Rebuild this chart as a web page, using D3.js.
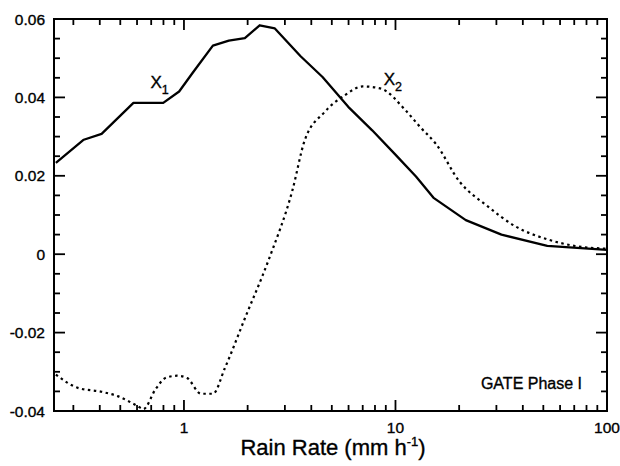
<!DOCTYPE html>
<html lang="en">
<head>
<meta charset="utf-8">
<title>GATE Phase I - Rain Rate</title>
<script src="https://cdn.jsdelivr.net/npm/d3@7"></script>
<style>
  body { margin: 0; background: #fff; }
  svg text { font-family: "Liberation Sans", Arial, Helvetica, sans-serif; fill: #000; stroke: #000; stroke-width: 0.35; }
</style>
</head>
<body>
<svg id="chart" width="620" height="466"></svg>
<script>
// values
const x1Rate  = [0.248, 0.336, 0.408, 0.577, 0.798, 0.949, 1.10, 1.37, 1.63, 1.94, 2.28, 2.69, 3.56, 4.52, 5.98, 7.76, 10.07, 12.5, 15.2, 21.5, 31.7, 52.2, 100]
const x1Value = [0.0233, 0.0292, 0.0307, 0.0386, 0.0386, 0.0415, 0.0463, 0.0532, 0.0545, 0.0551, 0.0584, 0.0576, 0.0505, 0.0452, 0.0376, 0.0316, 0.0252, 0.0198, 0.0143, 0.0087, 0.0050, 0.0021, 0.0011]

const x2Rate  = [0.248, 0.315, 0.408, 0.485, 0.602, 0.643, 0.733, 0.817, 0.929, 1.035, 1.205, 1.372, 1.56, 1.94, 2.52, 3.26, 3.72, 4.61, 5.74, 7.0, 8.47, 11.2, 13.1, 15.5, 20.1, 27.3, 36.9, 52.2, 70.7, 100]
const x2Value = [-0.0307, -0.0341, -0.0351, -0.0362, -0.0387, -0.0395, -0.0345, -0.0316, -0.0310, -0.0316, -0.0356, -0.0356, -0.0291, -0.0164, -0.0013, 0.0164, 0.0290, 0.0362, 0.0405, 0.0428, 0.0423, 0.0366, 0.0324, 0.0282, 0.0185, 0.0122, 0.0071, 0.0038, 0.0021, 0.0014]

const xMajor = [1, 10, 100]
const xMinor = [0.3, 0.4, 0.5, 0.6, 0.7, 0.8, 0.9, 2, 3, 4, 5, 6, 7, 8, 9, 20, 30, 40, 50, 60, 70, 80, 90]
const yMajor = [-0.04, -0.02, 0, 0.02, 0.04, 0.06]
const yMinor = [-0.035, -0.03, -0.025, -0.015, -0.01, -0.005, 0.005, 0.01, 0.015, 0.025, 0.03, 0.035, 0.045, 0.05, 0.055]
const seriesLabels = [
  {name: "X", sub: "1", rate: 0.75, value: 0.0440},
  {name: "X", sub: "2", rate: 9.5, value: 0.0447}
]

const svg = d3.select("#chart")
const box = {left: 54, right: 607, top: 19, bottom: 411}

const x = d3.scaleLog().domain([0.243, 100]).range([box.left, box.right])
const y = d3.scaleLinear().domain([-0.04, 0.06]).range([box.bottom, box.top])

// frame
svg.append("rect")
  .attr("x", box.left).attr("y", box.top)
  .attr("width", box.right - box.left).attr("height", box.bottom - box.top)
  .attr("fill", "none").attr("stroke", "#000").attr("stroke-width", 2)

// inward ticks on all four sides
function xTicks(vals, len, y0, dir) {
  svg.selectAll(null).data(vals).enter().append("line")
    .attr("x1", d => x(d)).attr("x2", d => x(d))
    .attr("y1", y0).attr("y2", y0 + dir * len)
    .attr("stroke", "#000").attr("stroke-width", 1.8)
}
function yTicks(vals, len, x0, dir) {
  svg.selectAll(null).data(vals).enter().append("line")
    .attr("x1", x0).attr("x2", x0 + dir * len)
    .attr("y1", d => y(d)).attr("y2", d => y(d))
    .attr("stroke", "#000").attr("stroke-width", 1.8)
}
xTicks(xMinor, 6, box.bottom, -1)
xTicks(xMajor, 11, box.bottom, -1)
xTicks(xMinor, 6, box.top, 1)
xTicks(xMajor, 11, box.top, 1)
yTicks(yMinor, 6, box.left, 1)
yTicks(yMajor, 11, box.left, 1)
yTicks(yMinor, 6, box.right, -1)
yTicks(yMajor, 11, box.right, -1)

// tick labels
svg.selectAll(".ylab").data(yMajor).enter().append("text")
  .attr("class", "ylab")
  .attr("x", box.left - 9)
  .attr("y", d => y(d) + 5.5)
  .attr("text-anchor", "end")
  .attr("font-size", 15.5)
  .text(d => d === 0 ? "0" : d.toFixed(2))

svg.selectAll(".xlab").data(xMajor).enter().append("text")
  .attr("class", "xlab")
  .attr("x", d => x(d))
  .attr("y", 433)
  .attr("text-anchor", "middle")
  .attr("font-size", 15.5)
  .text(d => d)

// axis title
const title = svg.append("text")
  .attr("x", 333).attr("y", 455)
  .attr("text-anchor", "middle")
  .attr("font-size", 22)
title.append("tspan").text("Rain Rate  (mm h")
title.append("tspan").attr("font-size", 13).attr("dy", -9).text("-1")
title.append("tspan").attr("dy", 9).text(")")

// curves
const line = d3.line().x(d => x(d[0])).y(d => y(d[1]))

svg.append("path")
  .datum(d3.zip(x1Rate, x1Value))
  .attr("d", line.curve(d3.curveLinear))
  .attr("fill", "none").attr("stroke", "#000").attr("stroke-width", 2.3)
  .attr("stroke-linejoin", "round")

svg.append("path")
  .datum(d3.zip(x2Rate, x2Value))
  .attr("d", line.curve(d3.curveMonotoneX))
  .attr("fill", "none").attr("stroke", "#000").attr("stroke-width", 2.2)
  .attr("stroke-dasharray", "2.5,3.5")

// series labels
seriesLabels.forEach(s => {
  let t = svg.append("text")
    .attr("x", x(s.rate) - 7).attr("y", y(s.value) + 6)
    .attr("font-size", 17)
  t.append("tspan").text(s.name)
  t.append("tspan").attr("font-size", 12.5).attr("dy", 6).text(s.sub)
})

svg.append("text")
  .attr("x", 582).attr("y", 389)
  .attr("text-anchor", "end")
  .attr("font-size", 16)
  .text("GATE Phase I")
</script>
</body>
</html>
